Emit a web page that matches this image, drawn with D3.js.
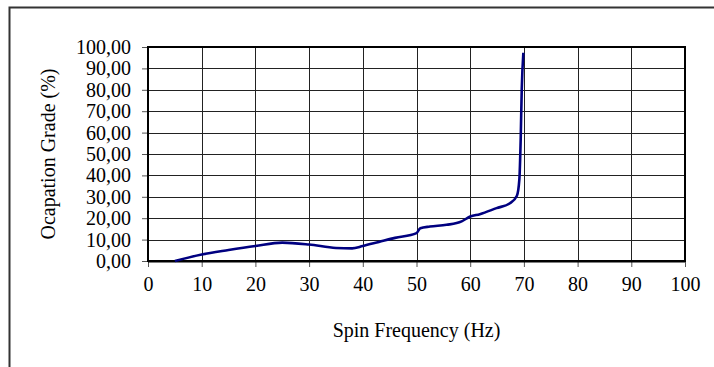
<!DOCTYPE html>
<html><head><meta charset="utf-8">
<script src="https://cdn.jsdelivr.net/npm/d3@7"></script>
<style>
html,body{margin:0;padding:0;background:#fff;}
svg, svg text{font-family:"Liberation Serif","Times New Roman",serif !important;}
</style></head>
<body>
<svg id="c" width="714" height="367"></svg>
<script>
const frequency = [5, 10, 15, 20, 25, 30, 35, 38, 40, 43, 46, 50, 50.7, 52.5, 55.6, 58.4, 60, 61.8, 64.9, 67.4, 68.7, 69.15, 69.4, 69.6, 69.9];
const grade     = [0, 3.0, 5.1, 7.0, 8.6, 7.7, 6.1, 5.9, 7.0, 8.9, 10.8, 13.0, 15.3, 16.1, 16.9, 18.5, 20.8, 21.9, 24.7, 27.0, 30.5, 38, 56.7, 80.2, 97.3];
const xTicks = [0,10,20,30,40,50,60,70,80,90,100];
const yTicks = [0,10,20,30,40,50,60,70,80,90,100];
const xTitle = "Spin Frequency (Hz)";
const yTitle = "Ocapation Grade (%)";

const svg = d3.select("#c");
const L = 148, R = 685, T = 47, B = 261;
const x = d3.scaleLinear().domain([0,100]).range([L,R]);
const y = d3.scaleLinear().domain([0,100]).range([B,T]);

// outer frame
svg.append("rect").attr("x",9.5).attr("y",7.5).attr("width",720).attr("height",380)
  .attr("fill","none").attr("stroke","#333").attr("stroke-width",2);

// grid
const g = svg.append("g");
g.selectAll(".vg").data(xTicks).join("line")
  .attr("x1",d=>Math.round(x(d))+0.5).attr("x2",d=>Math.round(x(d))+0.5)
  .attr("y1",T).attr("y2",B).attr("stroke","#222").attr("stroke-width",1);
g.selectAll(".hg").data(yTicks).join("line")
  .attr("y1",d=>Math.round(y(d))+0.5).attr("y2",d=>Math.round(y(d))+0.5)
  .attr("x1",L).attr("x2",R).attr("stroke","#222").attr("stroke-width",1);

// axes (ticks + labels)
const xAxis = d3.axisBottom(x).tickValues(xTicks).tickSize(6).tickSizeOuter(0).tickPadding(10)
  .tickFormat(d3.format("d"));
const ax = svg.append("g").attr("transform",`translate(0,${B})`).call(xAxis);
ax.attr("font-family", null);
ax.select(".domain").remove();
ax.selectAll("line").attr("stroke","#555");
ax.selectAll("text").attr("font-size",20).attr("fill","#000");

const yAxis = d3.axisLeft(y).tickValues(yTicks).tickSize(6).tickSizeOuter(0).tickPadding(11)
  .tickFormat(d => d3.format(".2f")(d).replace(".", ","));
const ay = svg.append("g").attr("transform",`translate(${L},0)`).call(yAxis);
ay.attr("font-family", null);
ay.select(".domain").remove();
ay.selectAll("line").attr("stroke","#555");
ay.selectAll("text").attr("font-size",20).attr("fill","#000");

// plot border
svg.append("rect").attr("x",L).attr("y",T).attr("width",R-L).attr("height",B-T)
  .attr("fill","none").attr("stroke","#000").attr("stroke-width",2);
svg.append("line").attr("x1",L).attr("x2",R).attr("y1",B+0.5).attr("y2",B+0.5)
  .attr("stroke","#000").attr("stroke-width",2);

// line
const data = frequency.map((f,i)=>({f, v: grade[i]}));
svg.append("path").datum(data)
  .attr("d", d3.line().x(d=>x(d.f)).y(d=>y(d.v)).curve(d3.curveMonotoneX))
  .attr("fill","none").attr("stroke","#000080").attr("stroke-width",2.6)
  .attr("stroke-linejoin","round");

// titles
svg.append("text").attr("x",(L+R)/2).attr("y",337).attr("text-anchor","middle")
  .attr("font-size",20).attr("fill","#000").text(xTitle);
svg.append("text").attr("transform",`translate(55,${(T+B)/2}) rotate(-90)`)
  .attr("text-anchor","middle").attr("font-size",20).attr("fill","#000").text(yTitle);
</script>
</body></html>
